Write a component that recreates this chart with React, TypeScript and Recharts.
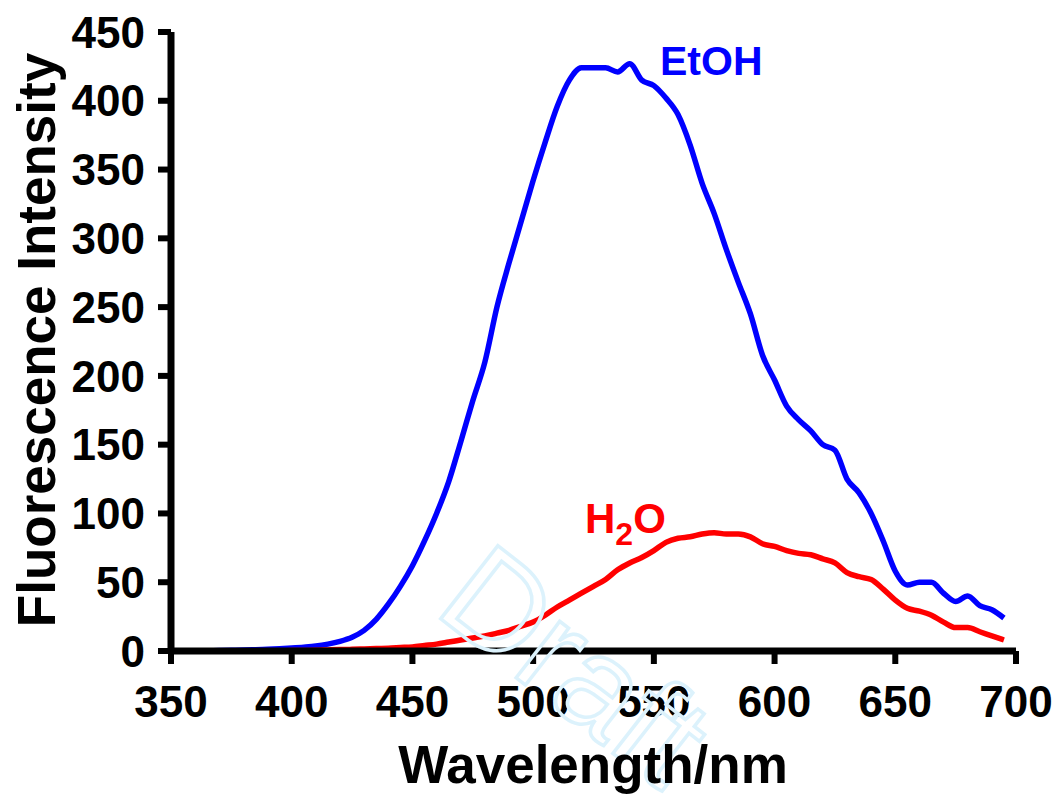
import { LineChart, Line, XAxis, YAxis } from "recharts";

// emission spectra, wavelength in nm
const wavelengths = [
  350, 355, 360, 365, 370, 375, 380, 385, 390, 395,
  400, 405, 410, 415, 420, 425, 430, 435, 440, 445,
  450, 455, 460, 465, 470, 475, 480, 485, 490, 495,
  500, 505, 510, 515, 520, 525, 530, 535, 540, 545,
  550, 555, 560, 565, 570, 575, 580, 585, 590, 595,
  600, 605, 610, 615, 620, 625, 630, 635, 640, 645,
  650, 655, 660, 665, 670, 675, 680, 685, 690, 695,
];

const etoh = [
  0, 0, 0, 0.2, 0.3, 0.5, 0.7, 1, 1.3, 1.7,
  2.2, 2.8, 3.6, 5, 7, 10, 15, 23, 34, 47,
  62, 80, 100, 123, 152, 182, 210, 250, 282, 312,
  342, 370, 396, 415, 424, 424, 424, 421, 427, 415,
  411, 402, 390, 368, 340, 318, 292, 268, 245, 215,
  197, 178, 168, 160, 150, 146, 125, 115, 100, 80,
  58, 48, 50, 50, 42, 36, 40, 33, 30, 24,
];

const h2o = [
  0, 0, 0, 0, 0, 0, 0, 0, 0, 0,
  0.3, 0.4, 0.5, 0.8, 1, 1.2, 1.5, 1.8, 2, 2.5,
  3, 4, 5, 6.5, 8, 9.5, 11, 13, 15, 18,
  21, 26, 32, 37, 42, 47, 52, 59, 64, 68,
  73, 79, 82, 83, 85, 86, 85, 85, 83, 78,
  76, 73, 71, 70, 67, 64, 57, 54, 52, 45,
  37, 31, 29, 26, 21, 17, 17, 14, 11, 8,
];

const xTicks = [350, 400, 450, 500, 550, 600, 650, 700];
const yTicks = [0, 50, 100, 150, 200, 250, 300, 350, 400, 450];

const font = "'Liberation Sans', Arial, Helvetica, sans-serif";

const data = wavelengths.map((w, i) => ({ w, etoh: etoh[i], h2o: h2o[i] }));

const tickStyle = { fontSize: 44, fontWeight: "bold", fill: "#000", fontFamily: font };

export default function App() {
  return (
    <div style={{ position: "absolute", left: 0, top: 0, width: 1059, height: 800, background: "#fff" }}>
      <LineChart width={1059} height={800} data={data} margin={{ top: 32, right: 43, left: 71, bottom: 89 }}>
        <XAxis
          type="number"
          dataKey="w"
          domain={[350, 700]}
          ticks={xTicks}
          allowDataOverflow
          height={60}
          tickSize={13}
          tickMargin={22}
          axisLine={{ stroke: "#000", strokeWidth: 7 }}
          tickLine={{ stroke: "#000", strokeWidth: 6 }}
          tick={tickStyle}
          interval={0}
        />
        <YAxis
          type="number"
          domain={[0, 450]}
          ticks={yTicks}
          allowDataOverflow
          width={100}
          tickSize={13}
          tickMargin={13}
          axisLine={{ stroke: "#000", strokeWidth: 7 }}
          tickLine={{ stroke: "#000", strokeWidth: 6 }}
          tick={tickStyle}
          interval={0}
        />
        <Line type="monotone" dataKey="etoh" stroke="#0000ff" strokeWidth={5.5} dot={false} isAnimationActive={false} />
        <Line type="monotone" dataKey="h2o" stroke="#ff0000" strokeWidth={5.5} dot={false} isAnimationActive={false} />
      </LineChart>

      {/* titles, series labels and the watermark */}
      <svg width={1059} height={800} style={{ position: "absolute", left: 0, top: 0, pointerEvents: "none" }}>
        <text
          x={432}
          y={612}
          transform="rotate(38, 432, 612)"
          fontFamily={font}
          fontSize={135}
          fill="none"
          stroke="#dcf2fc"
          strokeWidth={3.5}
        >
          Draft
        </text>
        <text x={593} y={783} textAnchor="middle" fontFamily={font} fontWeight="bold" fontSize={53} fill="#000">
          Wavelength/nm
        </text>
        <text
          x={55}
          y={340}
          textAnchor="middle"
          transform="rotate(-90, 55, 340)"
          fontFamily={font}
          fontWeight="bold"
          fontSize={53}
          fill="#000"
        >
          Fluorescence Intensity
        </text>
        <text x={660} y={75} fontFamily={font} fontWeight="bold" fontSize={41} fill="#0000ff">
          EtOH
        </text>
        <text x={585} y={533} fontFamily={font} fontWeight="bold" fontSize={42} fill="#ff0000">
          H
          <tspan fontSize={32} dy={12}>2</tspan>
          <tspan dy={-12}>O</tspan>
        </text>
      </svg>
    </div>
  );
}
